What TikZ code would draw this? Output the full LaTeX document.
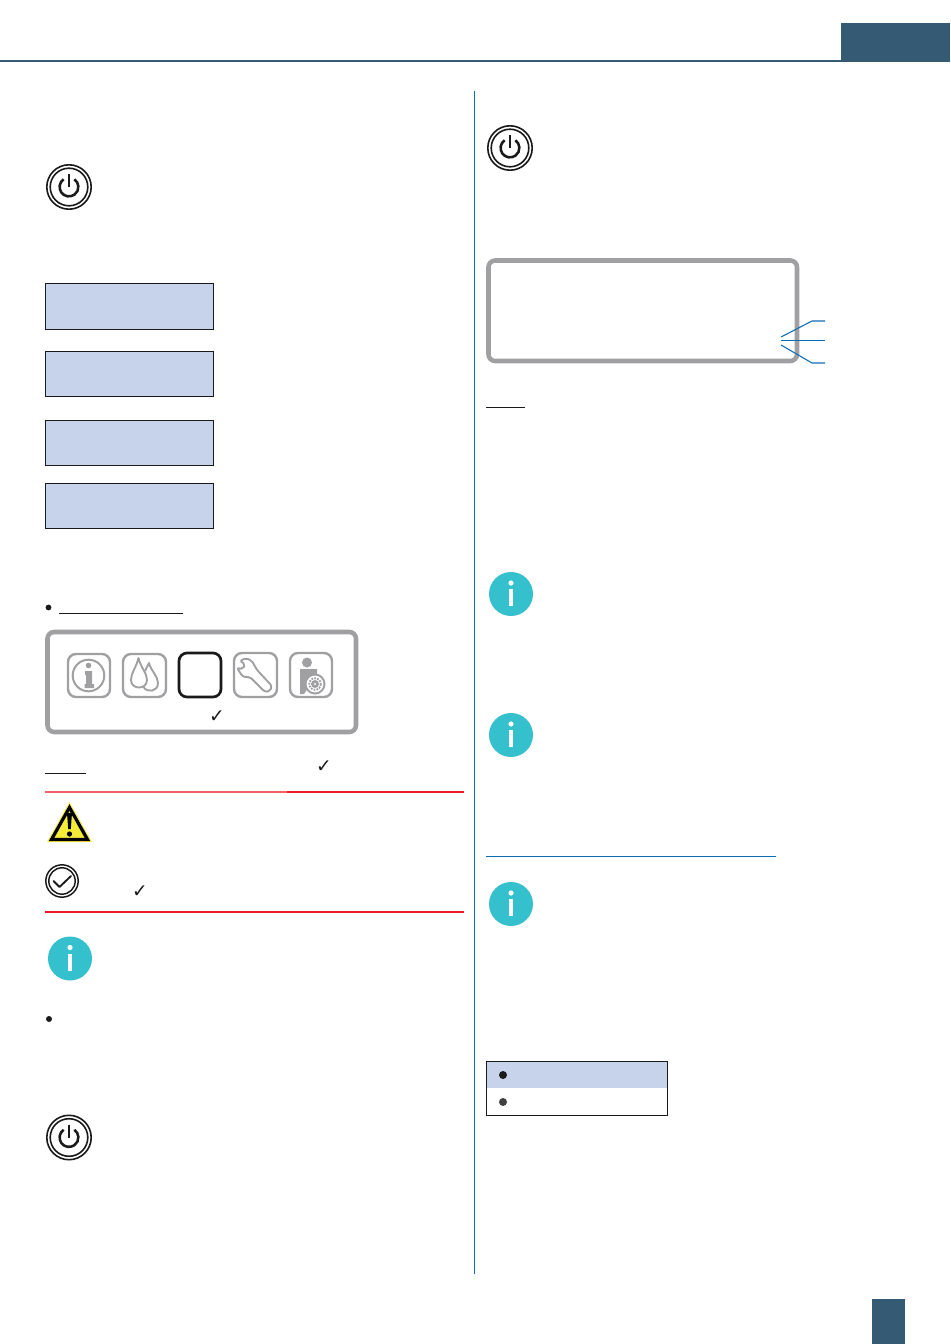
\documentclass[tikz,border=0pt]{standalone}
\usepackage{fontspec}
\newfontfamily\symfont{DejaVu Sans}
\definecolor{headblue}{HTML}{345A74}
\definecolor{rulegrey}{HTML}{A0A0A3}
\definecolor{boxblue}{HTML}{C7D3EB}
\definecolor{teal}{HTML}{35C0CD}
\definecolor{colline}{HTML}{0F6DB5}
\definecolor{redline}{HTML}{ED1C24}
\definecolor{warnyellow}{HTML}{F5EC3A}
\definecolor{inkdark}{HTML}{1A1A1A}
\tikzset{
  blueboxst/.style={draw=inkdark,line width=0.5pt,fill=boxblue,inner sep=0pt},
  panelst/.style={draw=rulegrey,line width=3.4pt,rounded corners=5pt},
  iconst/.style={draw=rulegrey,line width=1.8pt,rounded corners=6pt},
  redst/.style={draw=redline,line width=1pt},
  uline/.style={draw=inkdark,line width=0.6pt},
  leader/.style={draw=colline,line width=0.8pt},
  tick/.style={font=\symfont\fontsize{14}{16}\selectfont,text=inkdark,inner sep=0pt},
}
\newcommand{\powericon}[2]{%
  \begin{scope}[shift={(#1,#2)}]
    \draw[inkdark,line width=1.2pt] (0,0) circle (22.2);
    \draw[inkdark,line width=1.2pt] (0,0) circle (18.8);
    \draw[inkdark,line width=1.9pt,line cap=butt] (-5.4,-7.7) arc (235:-55:9.4);
    \draw[inkdark,line width=1.9pt,line cap=butt] (0,-13) -- (0,0);
  \end{scope}}
\newcommand{\infoicon}[2]{%
  \begin{scope}[shift={(#1,#2)}]
    \fill[teal] (0,0) circle (22);
    \fill[white] (0,-11) circle (2.6);
    \fill[white] (-2.2,-5) rectangle (2.2,12);
  \end{scope}}
\begin{document}
\begin{tikzpicture}[x=0.75pt,y=-0.75pt]
\useasboundingbox (0,0) rectangle (950,1344);
% header and footer
\fill[headblue] (841,23) rectangle (950,61);
\draw[headblue,line width=1.5pt] (0,61) -- (950,61);
\fill[headblue] (872,1299) rectangle (905,1344);
% column rule
\draw[colline,line width=0.6pt] (474.7,91) -- (474.7,1274);
% left column
\powericon{69}{187}
\node[blueboxst,minimum width=126pt,minimum height=34.9pt] (b1) at (129.5,306.5) {};
\node[blueboxst,minimum width=126pt,minimum height=34.2pt] (b2) at (129.5,374) {};
\node[blueboxst,minimum width=126pt,minimum height=34.2pt] (b3) at (129.5,443) {};
\node[blueboxst,minimum width=126pt,minimum height=34.2pt] (b4) at (129.5,506) {};
\fill[inkdark] (48.5,607.5) circle (2.9);
\draw[uline] (59,613) -- (183,613);
% menu panel
\draw[panelst] (47.5,632) rectangle (356,732);
\draw[iconst] (68,654) rectangle (110,697);
\draw[rulegrey,line width=1.5pt] (88.5,675.5) circle (15.8);
\fill[rulegrey] (88.5,665.5) circle (2.8);
\fill[rulegrey] (85,671) -- (92,671) -- (92,684) -- (94,684) -- (94,688) -- (84.5,688) -- (84.5,684) -- (86,684) -- (86,675) -- (85,675) -- cycle;
\draw[iconst] (123,654) rectangle (166,697);
\draw[rulegrey,line width=1.4pt,line join=round] (138.5,658) .. controls (136,668) and (131,673) .. (131,680) .. controls (131,690) and (147,690) .. (147,680) .. controls (147,673) and (141,668) .. (138.5,658) -- cycle;
\draw[rulegrey,line width=1.4pt,line join=round] (145,671) -- (149,663) .. controls (151,671) and (158,676) .. (158,683) .. controls (158,692) and (147,693) .. (143.5,687);
\draw[inkdark,line width=2pt,rounded corners=6pt] (179,653) rectangle (221,697);
\draw[iconst] (234,653) rectangle (277,697);
\draw[rulegrey,line width=1.4pt,line join=round,rounded corners=1.5pt] (240,661) -- (246,658) -- (252,661) -- (257,670) -- (272,686) -- (270,691) -- (265,692) -- (250,677) -- (243,677) -- (237,668) -- (243,669) -- (245,664) -- cycle;
\draw[iconst] (290,653) rectangle (332,697);
\fill[rulegrey] (307,662.5) circle (5);
\fill[rulegrey] (300,669) -- (317,669) -- (317,688) -- (308,688) -- (304,694) -- (300,694) -- cycle;
\fill[rulegrey] (315,684) circle (10.5);
\fill[white] (315,684) circle (8.4);
\draw[rulegrey,line width=1.4pt,dash pattern=on 1.3pt off 0.9pt] (315,684) circle (5.8);
\fill[rulegrey] (315,684) circle (4);
\fill[white] (315,684) circle (1.2);
\node[tick] (t1) at (217,716.5) {✓};
% note
\draw[uline] (45,773) -- (86,773);
\node[tick] (t2) at (324,767) {✓};
% warning block
\draw[redline!70,line width=0.9pt] (45,792) -- (287,792);
\draw[redst] (287,792) -- (464,792);
\draw[redst] (45,912) -- (464,912);
\fill[warnyellow] (69.5,802) -- (92,842) -- (47,842) -- cycle;
\draw[black,line width=2.4pt,line join=miter] (69.5,807.5) -- (87.5,839.5) -- (51.5,839.5) -- cycle;
\fill[black] (67,813) -- (72,813) -- (70.8,829) -- (68.2,829) -- cycle;
\fill[black] (69.5,834) circle (2.6);
\draw[inkdark,line width=1.1pt] (62,881) circle (16.2);
\draw[inkdark,line width=1.1pt] (62,881) circle (13.2);
\draw[inkdark,line width=1.4pt,line cap=round,line join=round] (53.5,881) -- (59.5,887) -- (71,876);
\node[tick] (t3) at (140,891.5) {✓};
\infoicon{70}{958.5}
\fill[inkdark] (49,1019) circle (3);
\powericon{69}{1137.5}
% right column
\powericon{510}{148}
\draw[panelst] (488.5,260.5) rectangle (797,361);
\coordinate (la) at (781,337);
\coordinate (lam) at (812,321);
\coordinate (lae) at (825,321);
\coordinate (lb) at (781,340.6);
\coordinate (lbe) at (825,340.6);
\coordinate (lc) at (781,345);
\coordinate (lcm) at (812,363);
\coordinate (lce) at (825,363);
\draw[leader] (la) -- (lam) -- (lae);
\draw[leader] (lb) -- (lbe);
\draw[leader] (lc) -- (lcm) -- (lce);
\draw[uline] (486,407) -- (525,407);
\infoicon{511}{594}
\infoicon{511}{735}
\draw[colline,line width=0.6pt] (486,856) -- (776,856);
\infoicon{511}{904}
% table
\fill[boxblue] (486.5,1061.5) rectangle (667.5,1088);
\draw[inkdark,line width=0.7pt] (486.5,1061.5) rectangle (667.5,1115.5);
\fill[inkdark] (503,1075) circle (4);
\fill[black!75] (503,1102) circle (4);
\end{tikzpicture}
\end{document}
